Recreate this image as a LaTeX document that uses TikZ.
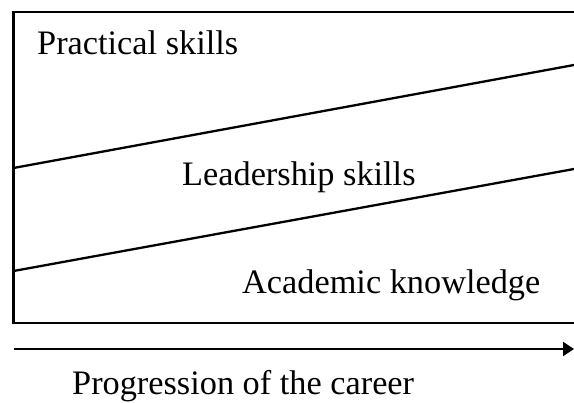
\documentclass[tikz,border=0pt]{standalone}
\usepackage{fontspec}
\setmainfont{Liberation Serif}
\usetikzlibrary{arrows.meta}
\begin{document}
\begin{tikzpicture}[x=1pt,y=-1pt,
  lbl/.style={anchor=base west,inner sep=0pt,font=\fontsize{34.3}{40}\selectfont},
  ln/.style={line width=2.3pt,black}]
\useasboundingbox (0,0) rectangle (574,403);
\clip (0,0) rectangle (574,403);
\draw[ln] (13.5,12) rectangle (590,323);
\coordinate (a1) at (13.5,168);
\coordinate (a2) at (574,65);
\coordinate (b1) at (13.5,271);
\coordinate (b2) at (574,169);
\draw[ln] (a1) -- (a2);
\draw[ln] (b1) -- (b2);
\coordinate (s) at (13.5,349);
\coordinate (e) at (574,349);
\draw[ln,-{Triangle[length=11pt,width=14pt]}] (s) -- (e);
\node[lbl] (p) at (37,55) {Practical skills};
\node[lbl] (l) at (182,186) {Leadership skills};
\node[lbl] (k) at (242,294) {Academic knowledge};
\node[lbl] (g) at (72,395) {Progression of the career};
\end{tikzpicture}
\end{document}
